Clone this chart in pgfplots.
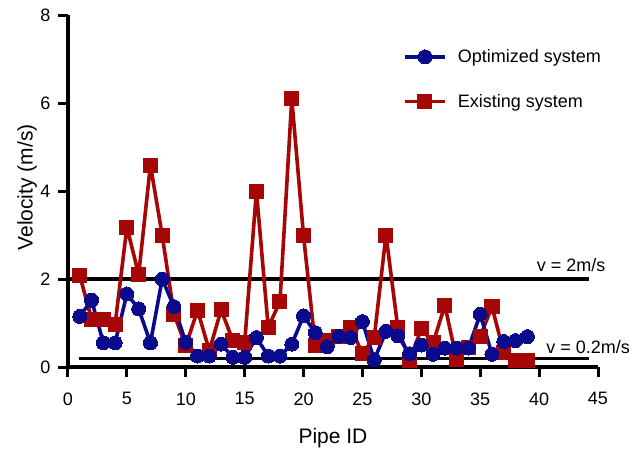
\documentclass[border=0pt]{standalone}
\usepackage{pgfplots}
\pgfplotsset{compat=1.18}
\usepackage{fontspec}
\setmainfont{Liberation Sans}
\definecolor{optblue}{RGB}{10,10,140}
\definecolor{exred}{RGB}{166,6,6}
\pgfplotstableread{
x opt exist
1 1.15 2.08
2 1.52 1.09
3 0.55 1.09
4 0.55 0.97
5 1.66 3.18
6 1.32 2.10
7 0.55 4.59
8 2.00 2.99
9 1.37 1.20
10 0.56 0.48
11 0.25 1.29
12 0.25 0.37
13 0.52 1.30
14 0.22 0.60
15 0.22 0.55
16 0.67 4.00
17 0.25 0.90
18 0.25 1.49
19 0.52 6.10
20 1.16 2.98
21 0.78 0.48
22 0.46 0.60
23 0.70 0.69
24 0.67 0.90
25 1.03 0.30
26 0.16 0.67
27 0.81 3.00
28 0.71 0.90
29 0.30 0.15
30 0.50 0.87
31 0.29 0.55
32 0.43 1.40
33 0.43 0.16
34 0.43 0.44
35 1.20 0.70
36 0.29 1.37
37 0.58 0.33
38 0.60 0.14
39 0.69 0.14
}\datatable
\begin{document}
\begin{tikzpicture}
\useasboundingbox (-68pt,-81pt) rectangle (561pt,367pt);
\begin{axis}[
 scale only axis, width=530pt, height=352pt,
 at={(0pt,0pt)}, anchor=south west,
 xmin=0, xmax=45, ymin=0, ymax=8,
 axis x line*=bottom, axis y line*=left,
 axis line style={-, line width=3.2pt, black},
 xtick={0,5,...,45}, ytick={0,2,4,6,8},
 tick align=outside, major tick length=10pt,
 tick style={line width=3pt, black},
 /pgf/number format/assume math mode=true,
 tick label style={font=\fontsize{18}{21}\selectfont, text=black},
 xticklabel style={yshift=-12pt},
 yticklabel style={xshift=-4pt},
 xlabel={Pipe ID}, ylabel={Velocity (m/s)},
 label style={font=\fontsize{21}{25}\selectfont},
 xlabel style={at={(axis description cs:0.5,-0.2017)}, anchor=center},
 ylabel style={at={(axis description cs:-0.077,0.51)}, anchor=center},
 clip=false,
 reverse legend,
 legend cell align=left,
 legend style={draw=none, fill=none, inner sep=0pt,
   at={(axis description cs:0.632,0.818)}, anchor=west,
   font=\fontsize{18}{21}\selectfont,
   nodes={inner sep=0pt}, row sep=30pt, column sep=11pt},
 legend image code/.code={\draw[mark repeat=2,mark phase=2] plot coordinates {(0pt,0pt) (20pt,0pt) (40pt,0pt)};},
]
\addplot[black, line width=3.2pt, forget plot] coordinates {(0,2) (44.2,2)};
\addplot[black, line width=3.2pt, forget plot] coordinates {(0.9,0.2) (44.2,0.2)};
\addplot[exred, line width=3.6pt, line join=round, mark=square*, mark size=7pt, mark options={solid, fill=exred, line width=0pt}] table[x=x, y=exist] {\datatable};
\addlegendentry{Existing system}
\addplot[optblue, line width=3.6pt, line join=round, mark=*, mark size=7pt, mark options={solid, fill=optblue, line width=0pt}] table[x=x, y=opt] {\datatable};
\addlegendentry{Optimized system}
\node[anchor=west, inner sep=0pt, font=\fontsize{18}{21}\selectfont] at (axis cs:39.8,2.32) {v = 2m/s};
\node[anchor=west, inner sep=0pt, font=\fontsize{18}{21}\selectfont] at (axis cs:40.6,0.455) {v = 0.2m/s};
\end{axis}
\end{tikzpicture}
\end{document}
